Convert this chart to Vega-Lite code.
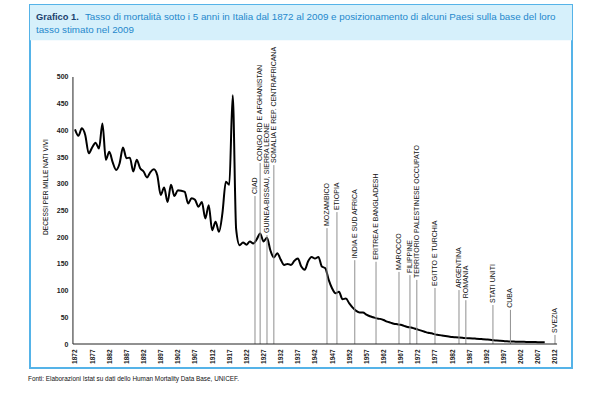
{
  "$schema": "https://vega.github.io/schema/vega-lite/v6.json",
  "autosize": {"type": "none"},
  "width": 542,
  "height": 363,
  "padding": {"left": 30, "top": 5, "right": 28, "bottom": 31},
  "background": "white",
  "config": {
    "view": {"stroke": "#55b3e8", "strokeWidth": 2},
    "font": "Liberation Sans",
    "axis": {"labelOverlap": false, "labelFlush": false, "grid": false, "ticks": false, "domain": false, "labelSeparation": 0, "labelBound": false}
  },
  "resolve": {"axis": {"x": "independent", "y": "independent"}},
  "title": {
    "text": "Fonti: Elaborazioni Istat su dati dello Human Mortality Data Base, UNICEF.",
    "orient": "bottom",
    "anchor": "start",
    "frame": "group",
    "fontSize": 6.4,
    "fontWeight": "normal",
    "font": "Liberation Sans",
    "color": "#111",
    "offset": 8,
    "dx": -2
  },
  "data": {"values": [{"uno": 1}]},
  "datasets": {
    "italia": [
      {"anno": 1872, "tasso": 402}, {"anno": 1873, "tasso": 390}, {"anno": 1874, "tasso": 404}, {"anno": 1875, "tasso": 391},
      {"anno": 1876, "tasso": 357}, {"anno": 1877, "tasso": 368}, {"anno": 1878, "tasso": 377}, {"anno": 1879, "tasso": 366},
      {"anno": 1880, "tasso": 413}, {"anno": 1881, "tasso": 345}, {"anno": 1882, "tasso": 360}, {"anno": 1883, "tasso": 340},
      {"anno": 1884, "tasso": 326}, {"anno": 1885, "tasso": 338}, {"anno": 1886, "tasso": 368}, {"anno": 1887, "tasso": 348},
      {"anno": 1888, "tasso": 349}, {"anno": 1889, "tasso": 323}, {"anno": 1890, "tasso": 345}, {"anno": 1891, "tasso": 329},
      {"anno": 1892, "tasso": 323}, {"anno": 1893, "tasso": 312}, {"anno": 1894, "tasso": 322}, {"anno": 1895, "tasso": 327},
      {"anno": 1896, "tasso": 316}, {"anno": 1897, "tasso": 279}, {"anno": 1898, "tasso": 293}, {"anno": 1899, "tasso": 266},
      {"anno": 1900, "tasso": 298}, {"anno": 1901, "tasso": 277}, {"anno": 1902, "tasso": 288}, {"anno": 1903, "tasso": 287},
      {"anno": 1904, "tasso": 285}, {"anno": 1905, "tasso": 263}, {"anno": 1906, "tasso": 273}, {"anno": 1907, "tasso": 270},
      {"anno": 1908, "tasso": 257}, {"anno": 1909, "tasso": 266}, {"anno": 1910, "tasso": 235}, {"anno": 1911, "tasso": 260},
      {"anno": 1912, "tasso": 213}, {"anno": 1913, "tasso": 229}, {"anno": 1914, "tasso": 210}, {"anno": 1915, "tasso": 245},
      {"anno": 1916, "tasso": 304}, {"anno": 1917, "tasso": 298}, {"anno": 1918, "tasso": 466}, {"anno": 1919, "tasso": 215},
      {"anno": 1920, "tasso": 185}, {"anno": 1921, "tasso": 190}, {"anno": 1922, "tasso": 186}, {"anno": 1923, "tasso": 192},
      {"anno": 1924, "tasso": 188}, {"anno": 1925, "tasso": 196}, {"anno": 1926, "tasso": 207}, {"anno": 1927, "tasso": 192},
      {"anno": 1928, "tasso": 199}, {"anno": 1929, "tasso": 175}, {"anno": 1930, "tasso": 162}, {"anno": 1931, "tasso": 170},
      {"anno": 1932, "tasso": 158}, {"anno": 1933, "tasso": 148}, {"anno": 1934, "tasso": 150}, {"anno": 1935, "tasso": 148},
      {"anno": 1936, "tasso": 156}, {"anno": 1937, "tasso": 160}, {"anno": 1938, "tasso": 145}, {"anno": 1939, "tasso": 139},
      {"anno": 1940, "tasso": 155}, {"anno": 1941, "tasso": 163}, {"anno": 1942, "tasso": 160}, {"anno": 1943, "tasso": 163},
      {"anno": 1944, "tasso": 145}, {"anno": 1945, "tasso": 142}, {"anno": 1946, "tasso": 120}, {"anno": 1947, "tasso": 104},
      {"anno": 1948, "tasso": 95}, {"anno": 1949, "tasso": 98}, {"anno": 1950, "tasso": 84}, {"anno": 1951, "tasso": 85},
      {"anno": 1952, "tasso": 76}, {"anno": 1953, "tasso": 68}, {"anno": 1954, "tasso": 62}, {"anno": 1955, "tasso": 59},
      {"anno": 1956, "tasso": 59}, {"anno": 1957, "tasso": 55}, {"anno": 1958, "tasso": 52}, {"anno": 1959, "tasso": 50},
      {"anno": 1960, "tasso": 48}, {"anno": 1961, "tasso": 47}, {"anno": 1962, "tasso": 45}, {"anno": 1963, "tasso": 42},
      {"anno": 1964, "tasso": 40}, {"anno": 1965, "tasso": 38}, {"anno": 1966, "tasso": 37}, {"anno": 1967, "tasso": 36},
      {"anno": 1968, "tasso": 34}, {"anno": 1969, "tasso": 32}, {"anno": 1970, "tasso": 31}, {"anno": 1971, "tasso": 29},
      {"anno": 1972, "tasso": 27}, {"anno": 1973, "tasso": 25}, {"anno": 1974, "tasso": 23}, {"anno": 1975, "tasso": 21},
      {"anno": 1976, "tasso": 20}, {"anno": 1977, "tasso": 18}, {"anno": 1978, "tasso": 17}, {"anno": 1979, "tasso": 16},
      {"anno": 1980, "tasso": 15}, {"anno": 1981, "tasso": 14}, {"anno": 1982, "tasso": 13}, {"anno": 1983, "tasso": 12.5},
      {"anno": 1984, "tasso": 12}, {"anno": 1985, "tasso": 11.5}, {"anno": 1986, "tasso": 11}, {"anno": 1987, "tasso": 10.8},
      {"anno": 1988, "tasso": 10.5}, {"anno": 1989, "tasso": 10}, {"anno": 1990, "tasso": 9.5}, {"anno": 1991, "tasso": 9},
      {"anno": 1992, "tasso": 8.5}, {"anno": 1993, "tasso": 8}, {"anno": 1994, "tasso": 7}, {"anno": 1995, "tasso": 6.5},
      {"anno": 1996, "tasso": 6}, {"anno": 1997, "tasso": 5.5}, {"anno": 1998, "tasso": 5}, {"anno": 1999, "tasso": 4.8},
      {"anno": 2000, "tasso": 4.5}, {"anno": 2001, "tasso": 4.3}, {"anno": 2002, "tasso": 4}, {"anno": 2003, "tasso": 4},
      {"anno": 2004, "tasso": 3.8}, {"anno": 2005, "tasso": 3.7}, {"anno": 2006, "tasso": 3.6}, {"anno": 2007, "tasso": 3.5},
      {"anno": 2008, "tasso": 3.5}, {"anno": 2009, "tasso": 3.5}
    ],
    "paesi": [
      {"anno": 1924.5, "livello": 277, "paese": "CIAD"},
      {"anno": 1926, "livello": 339, "paese": "CONGO RD E AFGHANISTAN"},
      {"anno": 1928, "livello": 204, "paese": "GUINEA-BISSAU, SIERRA LEONE"},
      {"anno": 1930, "livello": 335, "paese": "SOMALIA E REP. CENTRAFRICANA"},
      {"anno": 1945.5, "livello": 217, "paese": "MOZAMBICO"},
      {"anno": 1948.4, "livello": 247, "paese": "ETIOPIA"},
      {"anno": 1953.6, "livello": 157, "paese": "INDIA E SUD AFRICA"},
      {"anno": 1959.8, "livello": 154, "paese": "ERITREA E BANGLADESH"},
      {"anno": 1966.5, "livello": 135, "paese": "MAROCCO"},
      {"anno": 1969.7, "livello": 129, "paese": "FILIPPINE"},
      {"anno": 1971.7, "livello": 120, "paese": "TERRITORIO PALESTINESE OCCUPATO"},
      {"anno": 1977, "livello": 105, "paese": "EGITTO E TURCHIA"},
      {"anno": 1984, "livello": 101, "paese": "ARGENTINA"},
      {"anno": 1986, "livello": 82, "paese": "ROMANIA"},
      {"anno": 1993.9, "livello": 73, "paese": "STATI UNITI"},
      {"anno": 1999, "livello": 64, "paese": "CUBA"},
      {"anno": 2012, "livello": 17, "paese": "SVEZIA"}
    ]
  },
  "layer": [
    {
      "mark": {"type": "rect", "color": "#d6f0fb"},
      "encoding": {
        "x": {"datum": 1858.875, "type": "quantitative", "axis": null},
        "x2": {"datum": 2016.96},
        "y": {"datum": 569, "type": "quantitative", "axis": null},
        "y2": {"datum": 634.8}
      }
    },
    {
      "data": {"name": "italia"},
      "mark": {"type": "line", "color": "#000", "strokeWidth": 2, "interpolate": "monotone"},
      "encoding": {
        "x": {
          "field": "anno", "type": "quantitative",
          "scale": {"domain": [1858.875, 2016.96], "nice": false, "zero": false},
          "axis": {
            "values": [1872, 1877, 1882, 1887, 1892, 1897, 1902, 1907, 1912, 1917, 1922, 1927, 1932, 1937, 1942, 1947, 1952, 1957, 1962, 1967, 1972, 1977, 1982, 1987, 1992, 1997, 2002, 2007, 2012],
            "format": "d", "labelAngle": -90, "labelFontSize": 6.5, "labelFontWeight": "bold", "labelColor": "#222",
            "labelFont": "Liberation Sans", "ticks": false, "domain": false, "grid": false, "title": null,
            "offset": -23, "labelPadding": 4, "labelOverlap": false, "labelFlush": false, "labelSeparation": 0
          }
        },
        "y": {
          "field": "tasso", "type": "quantitative",
          "scale": {"domain": [-44.94, 634.8], "nice": false, "zero": false},
          "axis": {
            "values": [0, 50, 100, 150, 200, 250, 300, 350, 400, 450, 500],
            "labelFontSize": 7, "labelFontWeight": "bold", "labelColor": "#222", "labelFont": "Liberation Sans",
            "ticks": false, "domain": false, "grid": false, "offset": -43, "labelPadding": 5,
            "title": "DECESSI PER MILLE NATI VIVI", "titleFontSize": 6.6, "titleFontWeight": "normal", "titleColor": "#000",
            "titleFont": "Liberation Sans", "titlePadding": 8, "labelFlush": false, "labelOverlap": false, "labelSeparation": 0
          }
        }
      }
    },
    {
      "mark": {"type": "text", "align": "left", "baseline": "alphabetic", "fontSize": 9.3, "fontWeight": "bold", "color": "#1b3f6e", "font": "Liberation Sans"},
      "encoding": {
        "x": {"datum": 1860.6, "type": "quantitative", "axis": null},
        "y": {"datum": 606.7, "type": "quantitative", "axis": null},
        "text": {"value": "Grafico 1."}
      }
    },
    {
      "mark": {"type": "text", "align": "left", "baseline": "alphabetic", "fontSize": 9.8, "color": "#1f88cc", "font": "Liberation Sans"},
      "encoding": {
        "x": {"datum": 1874.9, "type": "quantitative", "axis": null},
        "y": {"datum": 606.7, "type": "quantitative", "axis": null},
        "text": {"value": "Tasso di mortalità sotto i 5 anni in Italia dal 1872 al 2009 e posizionamento di alcuni Paesi sulla base del loro"}
      }
    },
    {
      "mark": {"type": "text", "align": "left", "baseline": "alphabetic", "fontSize": 9.8, "color": "#1f88cc", "font": "Liberation Sans"},
      "encoding": {
        "x": {"datum": 1860.6, "type": "quantitative", "axis": null},
        "y": {"datum": 582.4, "type": "quantitative", "axis": null},
        "text": {"value": "tasso stimato nel 2009"}
      }
    },
    {
      "data": {"name": "paesi"},
      "mark": {"type": "rule", "color": "#8f8f8f", "strokeWidth": 1},
      "encoding": {
        "x": {"field": "anno", "type": "quantitative", "axis": null},
        "y": {"field": "livello", "type": "quantitative", "axis": null},
        "y2": {"datum": 0}
      }
    },
    {
      "data": {"name": "paesi"},
      "mark": {"type": "text", "angle": 270, "align": "left", "baseline": "middle", "dx": 2, "fontSize": 7, "color": "#111", "font": "Liberation Sans"},
      "encoding": {
        "x": {"field": "anno", "type": "quantitative", "axis": null},
        "y": {"field": "livello", "type": "quantitative", "axis": null},
        "text": {"field": "paese", "type": "nominal"}
      }
    },
    {
      "mark": {"type": "rule", "color": "#222", "strokeWidth": 1},
      "encoding": {
        "x": {"datum": 1871.4, "type": "quantitative", "axis": null},
        "x2": {"datum": 2012.6},
        "y": {"datum": 0, "type": "quantitative", "axis": null}
      }
    },
    {
      "mark": {"type": "rule", "color": "#222", "strokeWidth": 1},
      "encoding": {
        "x": {"datum": 1871.4, "type": "quantitative", "axis": null},
        "y": {"datum": 500, "type": "quantitative", "axis": null},
        "y2": {"datum": 0}
      }
    }
  ]
}
